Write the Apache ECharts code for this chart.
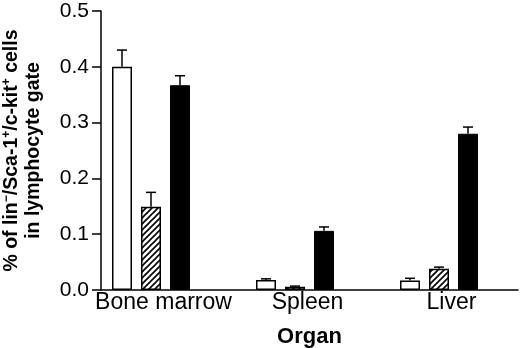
<!DOCTYPE html>
<html>
<head>
<meta charset="utf-8">
<script src="https://cdn.jsdelivr.net/npm/echarts@6/dist/echarts.min.js"></script>
<style>
  html, body { margin: 0; padding: 0; background: #fff; }
  #chart { width: 520px; height: 348px; }
</style>
</head>
<body>
<div id="chart"></div>
<script>
const organs = ['Bone marrow', 'Spleen', 'Liver']
const openVals = [0.400, 0.018, 0.017]
const openErr = [0.030, 0.002, 0.004]
const hatchVals = [0.149, 0.006, 0.038]
const hatchErr = [0.026, 0.001, 0.003]
const solidVals = [0.367, 0.106, 0.280]
const solidErr = [0.017, 0.007, 0.012]
const yTicks = [0, 0.1, 0.2, 0.3, 0.4, 0.5]

const FONT = "'Liberation Sans', Arial, Helvetica, sans-serif"
const BAR_W = 20
const BAR_GAP = 9

// diagonal hatch fill
function hatch() {
  const s = 6
  const c = document.createElement('canvas')
  c.width = s
  c.height = s
  const ctx = c.getContext('2d')
  ctx.fillStyle = '#fff'
  ctx.fillRect(0, 0, s, s)
  ctx.strokeStyle = '#000'
  ctx.lineWidth = 1.6
  ctx.beginPath()
  ctx.moveTo(0, s); ctx.lineTo(s, 0)
  ctx.moveTo(-1, 1); ctx.lineTo(1, -1)
  ctx.moveTo(s - 1, s + 1); ctx.lineTo(s + 1, s - 1)
  ctx.stroke()
  return c
}

function errSeries(vals, errs, slot) {
  return {
    type: 'custom',
    xAxisIndex: 1,
    yAxisIndex: 1,
    z: 1,
    silent: true,
    data: vals.map((v, i) => [i, v, errs[i]]),
    renderItem(params, api) {
      const i = api.value(0)
      const v = api.value(1)
      const top = api.coord([i, v + api.value(2)])
      const base = api.coord([i, v])
      const x = base[0] + slot * (BAR_W + BAR_GAP)
      const st = { stroke: '#000', lineWidth: 1.5 }
      return {
        type: 'group',
        children: [
          { type: 'line', shape: { x1: x, y1: base[1], x2: x, y2: top[1] }, style: st },
          { type: 'line', shape: { x1: x - 5, y1: top[1], x2: x + 5, y2: top[1] }, style: st }
        ]
      }
    }
  }
}

const chart = echarts.init(document.getElementById('chart'))
chart.setOption({
  backgroundColor: '#fff',
  animation: false,
  grid: [
    { left: 101, right: 2, top: 11, bottom: 58, containLabel: false, outerBoundsMode: 'none' },
    { left: 79, right: 9, top: 11, bottom: 58, containLabel: false, outerBoundsMode: 'none' }
  ],
  xAxis: [
    {
      gridIndex: 0,
      type: 'value',
      min: 0,
      max: 1,
      axisLine: { show: true, lineStyle: { color: '#000', width: 1.5 } },
      axisTick: { show: false },
      axisLabel: { show: false },
      splitLine: { show: false },
      name: 'Organ',
      nameLocation: 'middle',
      nameGap: 36,
      nameTextStyle: { fontFamily: FONT, fontSize: 22, fontWeight: 'bold', color: '#000' }
    },
    {
      gridIndex: 1,
      type: 'category',
      data: organs,
      axisLine: { show: false },
      axisTick: { show: false },
      axisLabel: {
        interval: 0,
        hideOverlap: false,
        margin: 1,
        fontFamily: FONT,
        fontSize: 23,
        color: '#000',
        padding: [0, 0, 0, 25]
      }
    }
  ],
  yAxis: [
    {
      gridIndex: 0,
      type: 'value',
      min: yTicks[0],
      max: yTicks[yTicks.length - 1],
      interval: 0.1,
      axisLine: { show: true, lineStyle: { color: '#000', width: 1.5 } },
      axisTick: { show: true, length: 9, lineStyle: { color: '#000', width: 1.5 } },
      axisLabel: {
        margin: 12,
        fontFamily: FONT,
        fontSize: 21,
        color: '#000',
        formatter: v => v.toFixed(1)
      },
      splitLine: { show: false },
      name: '{t|% of lin}{s|\u2212}{t|/Sca-1}{s|+}{t|/c-kit}{s|+}{t| cells}\n{t|in lymphocyte gate}',
      nameLocation: 'middle',
      nameRotate: 90,
      nameGap: 56,
      nameTextStyle: {
        fontFamily: FONT,
        fontWeight: 'bold',
        color: '#000',
        lineHeight: 22,
        rich: {
          t: { fontFamily: FONT, fontWeight: 'bold', fontSize: 19.5, color: '#000', lineHeight: 22 },
          s: { fontFamily: FONT, fontWeight: 'bold', fontSize: 12, color: '#000', lineHeight: 22, verticalAlign: 'top' }
        }
      }
    },
    {
      gridIndex: 1,
      type: 'value',
      min: 0,
      max: 0.5,
      show: false
    }
  ],
  series: [
    {
      type: 'bar',
      xAxisIndex: 1,
      yAxisIndex: 1,
      data: openVals,
      barWidth: BAR_W,
      barGap: (BAR_GAP / BAR_W * 100) + '%',
      z: 2,
      itemStyle: { color: '#fff', borderColor: '#000', borderWidth: 1.5 }
    },
    {
      type: 'bar',
      xAxisIndex: 1,
      yAxisIndex: 1,
      data: hatchVals,
      barWidth: BAR_W,
      z: 2,
      itemStyle: { color: { image: hatch(), repeat: 'repeat' }, borderColor: '#000', borderWidth: 1.5 }
    },
    {
      type: 'bar',
      xAxisIndex: 1,
      yAxisIndex: 1,
      data: solidVals,
      barWidth: BAR_W,
      z: 2,
      itemStyle: { color: '#000', borderColor: '#000', borderWidth: 1 }
    },
    errSeries(openVals, openErr, -1),
    errSeries(hatchVals, hatchErr, 0),
    errSeries(solidVals, solidErr, 1)
  ]
})
</script>
</body>
</html>
